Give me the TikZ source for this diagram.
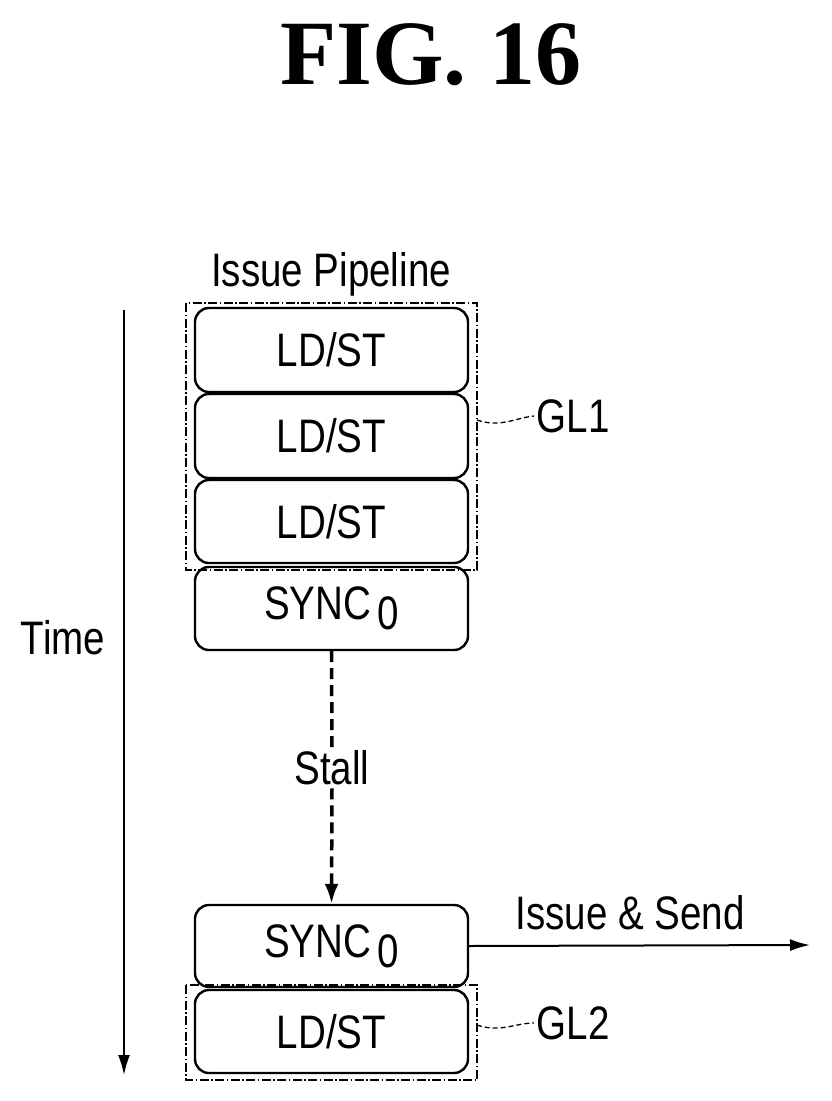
\documentclass[tikz,border=0pt]{standalone}
\usepackage{fontspec}
\setmainfont{Liberation Sans}
\newfontfamily\titlefont{Liberation Serif}
\usetikzlibrary{arrows.meta,decorations.pathmorphing}
\begin{document}
\begin{tikzpicture}[x=1pt,y=-1pt,
  blk/.style={draw,line width=2.4pt,rounded corners=14pt,minimum width=273pt,inner sep=0pt},
  grp/.style={draw,line width=1.1pt,dash pattern=on 9pt off 2.5pt on 1.5pt off 2.5pt},
  lbl/.style={font=\fontsize{47}{52}\selectfont,xscale=0.82},
  arr/.style={line width=2pt,-{Latex[length=20pt,width=12pt]}}]
\useasboundingbox (0,0) rectangle (832,1101);
\node[font=\titlefont\bfseries\fontsize{92}{100}\selectfont] (title) at (431,55) {FIG. 16};
\node[lbl] (ip) at (331,274) {Issue Pipeline};
\node[blk,minimum height=84pt] (b1) at (331.5,350) {};
\node[lbl] at (b1) {LD/ST};
\node[blk,minimum height=84pt] (b2) at (331.5,436) {};
\node[lbl] at (b2) {LD/ST};
\node[blk,minimum height=83pt] (b3) at (331.5,521.5) {};
\node[lbl] at (b3) {LD/ST};
\node[blk,minimum height=83pt] (s1) at (331.5,608.5) {};
\node[lbl] at (s1) {SYNC\,\raisebox{-10pt}{0}};
\node[blk,minimum height=82pt] (s2) at (331.5,946) {};
\node[lbl] at (s2) {SYNC\,\raisebox{-10pt}{0}};
\node[blk,minimum height=83pt] (b4) at (331.5,1031.5) {};
\node[lbl] at (b4) {LD/ST};
\draw[grp] (186,303) rectangle (477,570);
\draw[grp] (186,985) rectangle (477,1080);
\coordinate (g1) at (477,420);
\coordinate (g2) at (477,1025);
\node[lbl,anchor=west] (gl1) at (534,416) {GL1};
\node[lbl,anchor=west] (gl2) at (534,1023) {GL2};
\draw[line width=1.3pt,dash pattern=on 5pt off 3pt] (g1) .. controls (500,428) and (515,418) .. (gl1.west);
\draw[line width=1.3pt,dash pattern=on 5pt off 3pt] (g2) .. controls (500,1033) and (515,1023) .. (gl2.west);
\coordinate (t0) at (124,310);
\coordinate (t1) at (124,1075);
\draw[arr,line width=1.8pt] (t0) -- (t1);
\node[lbl] (time) at (63,638) {Time};
\node[lbl,fill=white,inner sep=3pt] (stall) at (332,768) {Stall};
\draw[line width=3.5pt,dash pattern=on 11pt off 6pt] (s1.south) -- (stall.north);
\draw[line width=3.5pt,dash pattern=on 11pt off 6pt,-{Latex[length=20pt,width=14pt]}] (stall.south) -- (s2.north);
\coordinate (out) at (810,945);
\draw[arr] (s2.east) -- (out);
\node[lbl] (is) at (630,913) {Issue \& Send};
\end{tikzpicture}
\end{document}
